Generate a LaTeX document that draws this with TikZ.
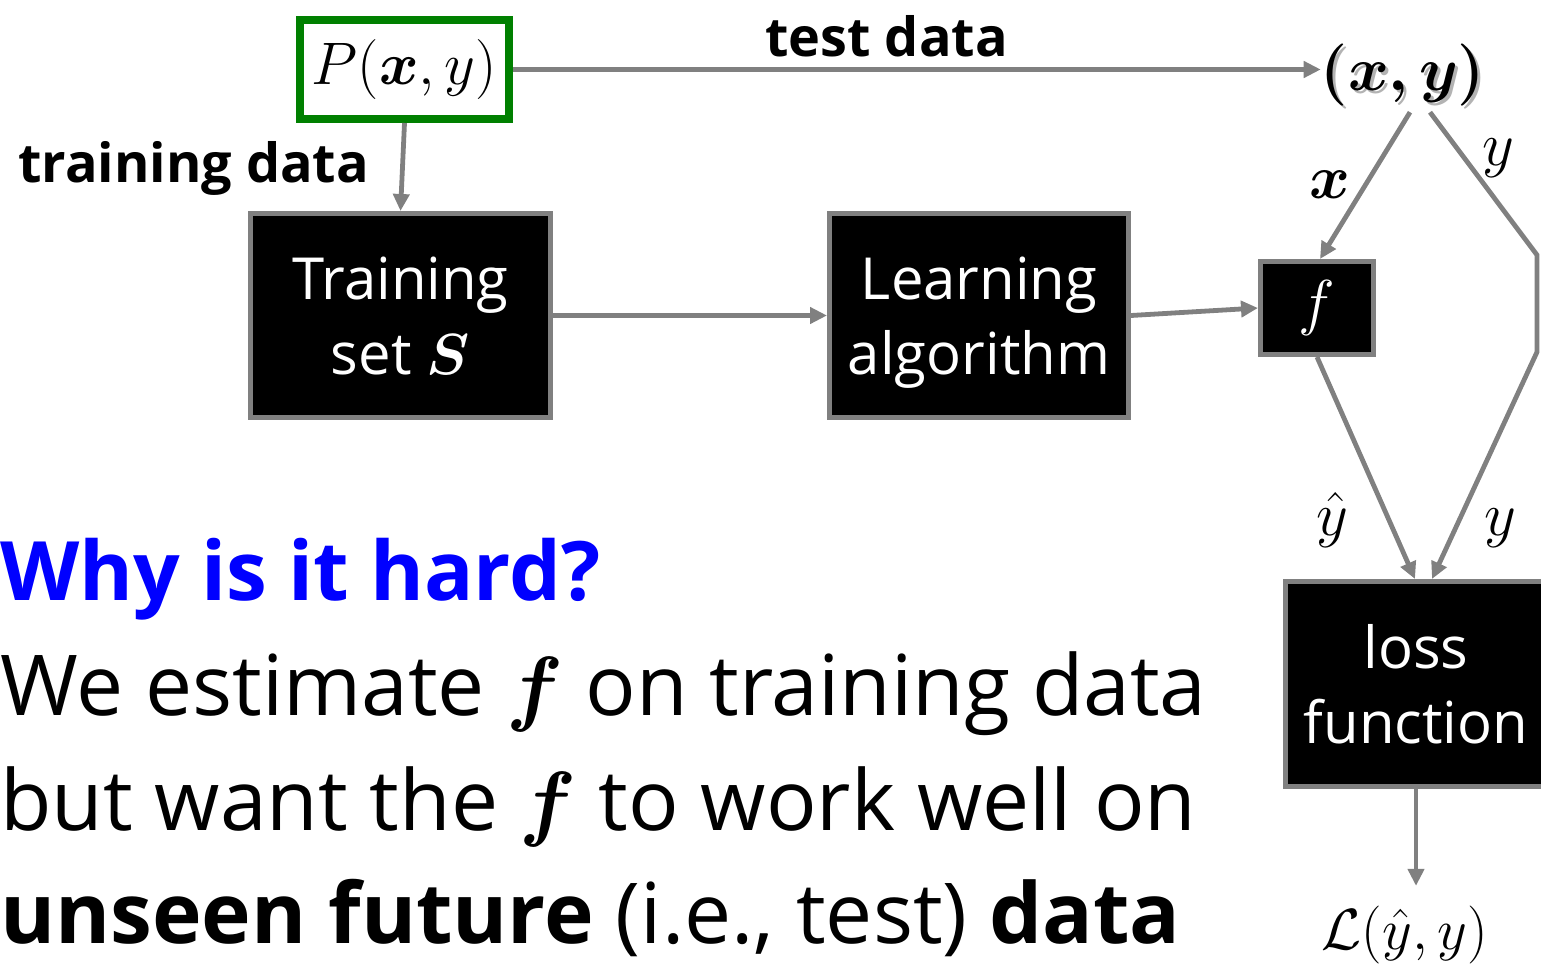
\RequirePackage{fix-cm}
\documentclass[tikz,border=0pt]{standalone}
\usepackage[no-math]{fontspec}
\usepackage{amsmath,bm}
\setmainfont{Open Sans}
\usetikzlibrary{arrows.meta}
\definecolor{lgray}{RGB}{128,128,128}
\definecolor{dgreen}{RGB}{0,128,0}
\definecolor{why}{RGB}{0,0,255}
\begin{document}
\begin{tikzpicture}[x=1pt,y=-1pt,
  conn/.style={draw=lgray, line width=4.8pt, -{Triangle[length=17pt,width=16pt]}},
  blackbox/.style={draw=lgray, fill=black, line width=5pt, text=white, align=center, inner sep=0pt},
  boxfont/.style={font=\fontsize{58}{75}\selectfont},
  mathlbl/.style={font=\fontsize{62}{70}\selectfont, inner sep=0pt},
  bigtext/.style={font=\fontsize{84}{100}\selectfont, anchor=base west, inner sep=0pt},
  lbltext/.style={font=\fontsize{54}{60}\selectfont\bfseries, anchor=base west, inner sep=0pt},
]
\useasboundingbox (0,0) rectangle (1541,968);
\begin{scope}
\clip (0,0) rectangle (1541,968);
% boxes
\node[draw=dgreen, line width=8pt, minimum width=209pt, minimum height=99pt, inner sep=0pt, font=\fontsize{60}{62}\selectfont] (P) at (404.5,69.5) {$P(\bm{x},y)$};
\node[blackbox, boxfont, minimum width=300pt, minimum height=204pt] (T) at (400.5,315.5) {Training\\set $\bm{S}$};
\node[blackbox, boxfont, minimum width=299pt, minimum height=204pt] (L) at (979,315.5) {Learning\\\smash[b]{algorithm}};
\node[blackbox, font=\fontsize{62}{64}\selectfont, minimum width=113pt, minimum height=93pt] (F) at (1317,308) {$f$};
\node[blackbox, boxfont, minimum width=261pt, minimum height=205pt] (LF) at (1416,684) {loss\\function};
% (x,y) with shadow
\node[mathlbl, text=lgray!60] at (1406,78) {$\boldsymbol{(x,y)}$};
\node[mathlbl, inner sep=6pt] (XY) at (1403,75) {$\boldsymbol{(x,y)}$};
\node[font=\fontsize{58}{60}\selectfont, inner sep=0pt] (Lo) at (1405,935) {$\mathcal{L}(\hat{y},y)$};
% connectors
\coordinate (b1) at (1537,255);
\coordinate (b2) at (1537,352);
\draw[conn] (P.east) -- ([xshift=6pt]P.east -| XY.west);
\draw[conn] (P.south) -- (T.north);
\draw[conn] (T.east) -- (L.west);
\draw[conn] (L.east) -- (F.west);
\draw[conn] ([xshift=7pt]XY.south) -- ([xshift=3pt]F.north);
\draw[conn] ([xshift=27pt]XY.south) -- (b1) -- (b2) -- ([xshift=16pt]LF.north);
\draw[conn] (F.south) -- ([xshift=-1pt]LF.north);
\draw[conn] (LF.south) -- ([yshift=20pt]LF.south |- Lo.north);
% labels
\node[mathlbl] at (1330,185) {$\bm{x}$};
\node[mathlbl] at (1498,158) {$y$};
\node[mathlbl] at (1332,520) {$\hat{y}$};
\node[mathlbl] at (1500,528) {$y$};
\node[lbltext] at (765,57) {test data};
\node[lbltext] at (18,183) {training data};
% bottom text
\node[bigtext, text=why, font=\fontsize{82}{100}\selectfont\bfseries] at (0,600) {Why is it hard?};
\node[bigtext] at (0,715) {We estimate $\bm{f}$ on training data};
\node[bigtext] at (0,830) {but want the $\bm{f}$ to work well on};
\node[bigtext] at (0,943) {\textbf{unseen future} (i.e., test) \textbf{data}};
\end{scope}
\end{tikzpicture}
\end{document}
